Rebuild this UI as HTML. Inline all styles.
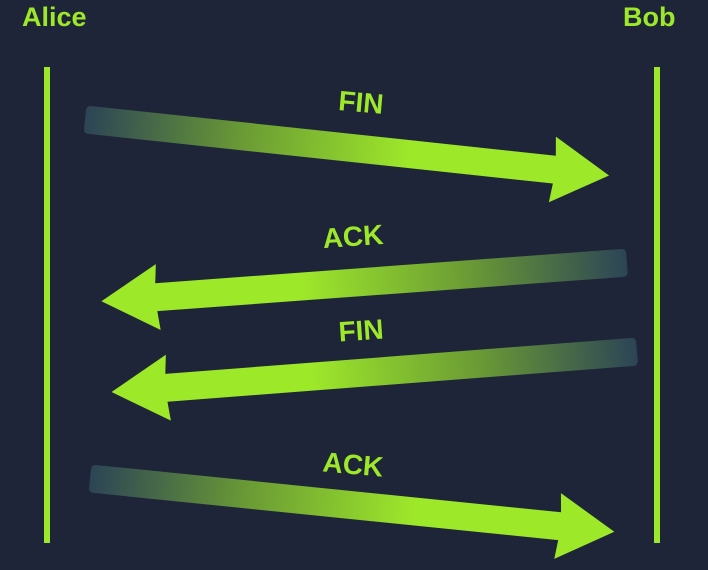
<!DOCTYPE html>
<html><head><meta charset="utf-8"><style>
html,body{margin:0;padding:0;background:#1e2538;}
svg{display:block}
text{font-family:"Liberation Sans",sans-serif;font-weight:bold;fill:#9ee82a}
</style></head><body>
<svg width="708" height="570" viewBox="0 0 708 570" xmlns="http://www.w3.org/2000/svg">
<defs>
<linearGradient id="g" x1="0" y1="0" x2="1" y2="0">
<stop offset="0" stop-color="#2c4456"/>
<stop offset="0.3" stop-color="#6a9a35"/>
<stop offset="0.62" stop-color="#9ee82a"/>
<stop offset="1" stop-color="#9ee82a"/>
</linearGradient>
<g id="arr">
<path d="M0,-14 L467,-14 L465,-33 L522,0 L465,33 L467,14 L0,14 Q-5,14 -5,9 L-5,-9 Q-5,-14 0,-14 Z" fill="url(#g)"/>
</g>
</defs>
<rect width="708" height="570" fill="#1e2538"/>
<text x="22" y="26" font-size="27">Alice</text>
<text x="623" y="26" font-size="27">Bob</text>
<rect x="44" y="67" width="6" height="476" fill="#9ee82a"/>
<rect x="654" y="67" width="6" height="476" fill="#9ee82a"/>

<g transform="translate(90,120) rotate(6.1)"><use href="#arr"/></g>
<g transform="translate(622,263) rotate(175.8)"><use href="#arr"/></g>
<g transform="translate(632,352) rotate(175.6)"><use href="#arr"/></g>
<g transform="translate(95,479) rotate(5.8)"><use href="#arr"/></g>

<text x="361" y="112" font-size="28" text-anchor="middle" transform="rotate(5 361 103)">FIN</text>
<text x="353" y="246" font-size="28" text-anchor="middle" transform="rotate(-4 353 237)">ACK</text>
<text x="361" y="340" font-size="28" text-anchor="middle" transform="rotate(-4 361 330)">FIN</text>
<text x="353" y="474" font-size="28" text-anchor="middle" transform="rotate(5 353 465)">ACK</text>
</svg>
</body></html>
